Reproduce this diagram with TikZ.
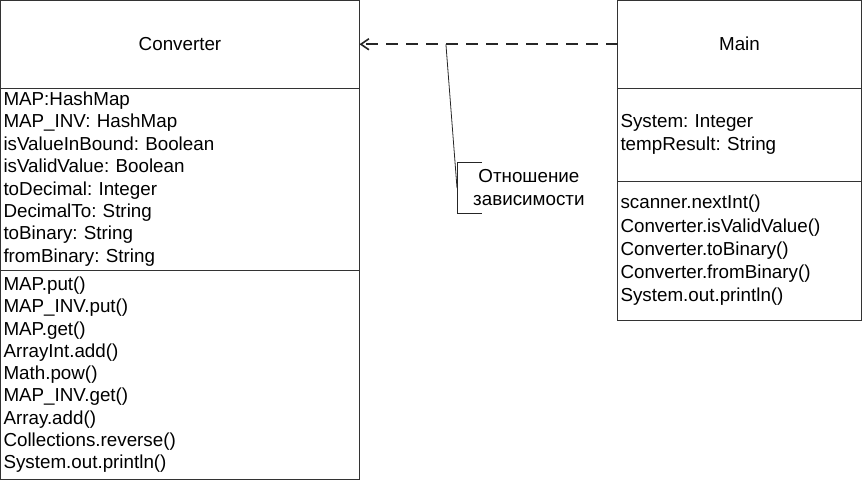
\documentclass[tikz,border=0pt]{standalone}
\usepackage{fontspec}
\setmainfont{Liberation Sans}
\frenchspacing
\usetikzlibrary{positioning,arrows.meta}
\tikzset{
    part/.style={draw=black!80, line width=0.9pt, outer sep=0pt, inner xsep=3pt,
        align=left, font=\fontsize{18.8}{22.4}\selectfont},
    convpart/.style={part, text width=353pt},
    mainpart/.style={part, text width=238pt},
    headpart/.style={part, align=center, minimum height=87.5pt}
}
\begin{document}
\begin{tikzpicture}[x=1pt,y=-1pt]
                \useasboundingbox (0,0) rectangle (862,480);
                % class Converter
                \node[convpart, headpart, anchor=north west] (convhead) at (0.5,0.5) {Converter};
                \node[convpart, minimum height=182pt, below=0pt of convhead] (convattr) {MAP:HashMap\\MAP\_INV: HashMap\\isValueInBound: Boolean\\isValidValue: Boolean\\toDecimal: Integer\\DecimalTo: String\\toBinary: String\\fromBinary: String};
                \node[convpart, minimum height=209.5pt, below=0pt of convattr, font=\fontsize{18.8}{22.3}\selectfont] (convops) {MAP.put()\\MAP\_INV.put()\\MAP.get()\\ArrayInt.add()\\Math.pow()\\MAP\_INV.get()\\Array.add()\\Collections.reverse()\\System.out.println()};
                % class Main
                \node[mainpart, headpart, anchor=north west] (mainhead) at (617.5,0.5) {Main};
                \node[mainpart, minimum height=93pt, below=0pt of mainhead, font=\fontsize{18.8}{23.3}\selectfont] (mainattr) {System: Integer\\tempResult: String};
                \node[mainpart, minimum height=139pt, below=0pt of mainattr, font=\fontsize{18.8}{23.3}\selectfont] (mainops) {scanner.nextInt()\\Converter.isValidValue()\\Converter.toBinary()\\Converter.fromBinary()\\System.out.println()};
                % dependency
                \draw[line width=1.6pt, black!85, dash pattern=on 12pt off 8pt, -{Straight Barb[length=8pt,width=11pt]}] (mainhead.west) -- coordinate[pos=0.665] (tap) (convhead.east);
                \node[anchor=west, inner xsep=16pt, minimum height=50pt, align=center, font=\fontsize{18.8}{23}\selectfont] (note) at (457,188) {Отношение\\зависимости};
                \draw[line width=0.8pt, black!85] ([xshift=25pt]note.north west) -- (note.north west) -- (note.south west) -- ([xshift=25pt]note.south west);
                \draw[line width=0.8pt, black!85] (tap) -- (note.west);
            \end{tikzpicture}
\end{document}
